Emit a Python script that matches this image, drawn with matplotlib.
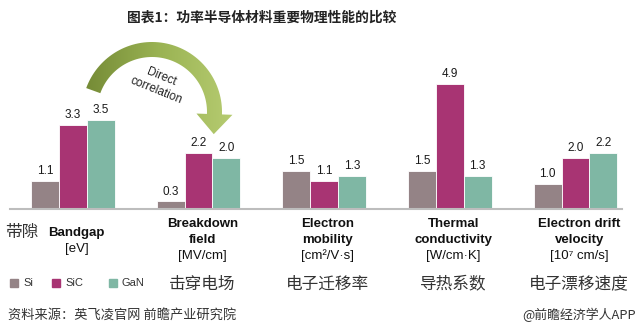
import numpy as np
import matplotlib.pyplot as plt
from matplotlib.patches import Polygon, Rectangle
from matplotlib.transforms import blended_transform_factory
from matplotlib.colors import LinearSegmentedColormap

# data
materials = ["Si", "SiC", "GaN"]
categories = ["Bandgap", "Breakdown\nfield", "Electron\nmobility", "Thermal\nconductivity", "Electron drift\nvelocity"]
units = ["[eV]", "[MV/cm]", "[cm²/V·s]", "[W/cm·K]", "[10⁷ cm/s]"]
cn_labels = ["带隙", "击穿电场", "电子迁移率", "导热系数", "电子漂移速度"]
si_vals = [1.1, 0.3, 1.5, 1.5, 1.0]
sic_vals = [3.3, 2.2, 1.1, 4.9, 2.0]
gan_vals = [3.5, 2.0, 1.3, 1.3, 2.2]
colors = ["#948386", "#a83473", "#7fb7a4"]

EN = ["Liberation Sans", "DejaVu Sans"]
CN = ["Noto Sans CJK SC", "DejaVu Sans"]

W, H = 639, 335
fig = plt.figure(figsize=(W / 100, H / 100), dpi=100)
fig.patch.set_facecolor("white")

# bar axes: baseline at y=209px, 1 unit ~ 25.5px
ax = fig.add_axes([10 / W, (H - 209) / H, 612 / W, 153 / H])
ax.set_xlim(-0.5, 4.37)
ax.set_ylim(0, 6)
ax.axis("off")

# overlay in pixel coords
ov = fig.add_axes([0, 0, 1, 1], zorder=-1)
ov.axis("off")

x = np.arange(len(categories))
bw = 0.222
for i, (vals, c) in enumerate(zip([si_vals, sic_vals, gan_vals], colors)):
    xs = x + (i - 1) * bw
    ax.bar(xs, vals, bw, color=c, edgecolor="white", linewidth=0.6, zorder=2)
    for xx, v in zip(xs, vals):
        ax.text(xx, v + 0.15, f"{v:.1f}", ha="center", va="bottom",
                fontsize=8.5, family=EN, color="#1a1a1a")

ax.axhline(0, color="#bdbdbd", lw=1.5, zorder=3, clip_on=False)

# labels under the groups
tr = blended_transform_factory(ax.transData, ov.transData)
for i, (cat, u) in enumerate(zip(categories, units)):
    lines = cat.split("\n")
    y0 = 233 if len(lines) == 1 else 224
    for j, ln in enumerate(lines):
        ax.text(i + 0.03, y0 + 16 * j, ln, transform=tr, ha="center", va="center",
                fontsize=9.5, fontweight="bold", family=EN, color="#111111")
    ax.text(i + 0.03, y0 + 16 * len(lines), u, transform=tr, ha="center", va="center",
            fontsize=9.5, family=EN, color="#111111")
    if i == 0:
        ov.text(22, 233, cn_labels[0], ha="center", va="center", fontsize=12,
                family=CN, color="#333333")
    else:
        ax.text(i + 0.03, 284, cn_labels[i], transform=tr, ha="center", va="center",
                fontsize=12, family=CN, color="#333333")

# legend
for (lx, name), c in zip([(10, "Si"), (52, "SiC"), (109, "GaN")], colors):
    ov.add_patch(Rectangle((lx, 279), 8, 8, color=c))
    ov.text(lx + 13, 283.5, name, ha="left", va="center", fontsize=8,
            family=EN, color="#333333")

# title and source
ov.text(262, 18, "图表1：功率半导体材料重要物理性能的比较", ha="center", va="center",
        fontsize=9.9, fontweight="bold", family=CN, color="#222222")
ov.text(8, 315, "资料来源：英飞凌官网 前瞻产业研究院", ha="left", va="center",
        fontsize=9.5, family=CN, color="#333333")
ov.text(636, 315, "@前瞻经济学人APP", ha="right", va="center",
        fontsize=9.3, family=CN, color="#333333")

# curved arrow
cx, cy, r_out, r_in = 152, 112, 70, 55
a = np.radians(np.linspace(160, -2, 70))
outer = np.c_[cx + r_out * np.cos(a), cy - r_out * np.sin(a)]
inner = np.c_[cx + r_in * np.cos(a), cy - r_in * np.sin(a)][::-1]
ae = a[-1]
mid = (r_out + r_in) / 2
base = np.array([cx + mid * np.cos(ae), cy - mid * np.sin(ae)])
radial = np.array([np.cos(ae), -np.sin(ae)])
tang = np.array([np.sin(ae), np.cos(ae)])
head = [base + radial * 18, base + tang * 20, base - radial * 18]
pts = np.vstack([outer, head, inner])
poly = Polygon(pts, closed=True, facecolor="none", edgecolor="none")
ov.add_patch(poly)
grad = np.linspace(0, 1, 256).reshape(1, -1)
cmap = LinearSegmentedColormap.from_list("g", ["#728834", "#9ab353", "#b9ce74"])
im = ov.imshow(grad, cmap=cmap, extent=[80, 240, 140, 35], aspect="auto", zorder=1)
im.set_clip_path(poly)
ov.set_xlim(0, W)
ov.set_ylim(H, 0)

ov.text(159, 84, "Direct\ncorrelation", ha="center", va="center", rotation=-22,
        fontsize=8.5, family=EN, color="#222222", linespacing=1.25)

fig.savefig("out.png", dpi=100, facecolor="white")
